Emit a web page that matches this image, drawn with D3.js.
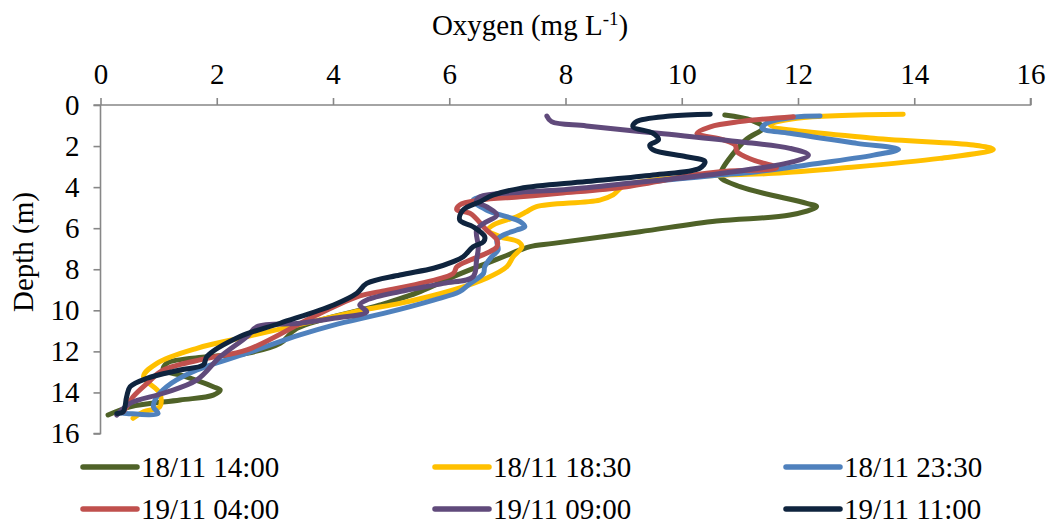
<!DOCTYPE html>
<html>
<head>
<meta charset="utf-8">
<script src="https://cdn.jsdelivr.net/npm/d3@7"></script>
<style>
  html, body { margin: 0; padding: 0; background: #fff; }
  svg { display: block; }
  text { font-family: "Liberation Serif", "Times New Roman", serif; fill: #000; }
</style>
</head>
<body>
<svg id="chart" width="1052" height="524"></svg>
<script>
// Dissolved oxygen profiles: oxygen (mg/L) against depth (m) for six casts.
const seriesNames = ["18/11 14:00", "18/11 18:30", "18/11 23:30", "19/11 04:00", "19/11 09:00", "19/11 11:00"];
const seriesColors = ["#4F6228", "#FFC000", "#4F81BD", "#C0504D", "#604A7B", "#0F243E"];

const xTicks = [0, 2, 4, 6, 8, 10, 12, 14, 16];
const yTicks = [0, 2, 4, 6, 8, 10, 12, 14, 16];

// 18/11 14:00
const oxy1   = [10.74, 11.2, 11.4, 11.1, 10.80, 10.69, 10.66, 11.0, 12.15, 12.32, 11.86, 10.6, 9.28, 7.79, 7.39, 7.22, 6.93, 6.64, 6.07, 5.50, 4.81, 3.38, 3.09, 2.52, 1.83, 1.14, 1.08, 1.37, 1.94, 2.06, 1.94, 1.37, 0.51, 0.13];
const depth1 = [0.49, 0.75, 1.1, 1.7, 2.68, 3.17, 3.49, 3.98, 4.79, 4.95, 5.36, 5.65, 6.17, 6.74, 6.90, 7.06, 7.39, 7.71, 8.36, 9.09, 9.74, 10.88, 11.61, 12.09, 12.26, 12.58, 12.91, 13.15, 13.72, 13.88, 14.13, 14.37, 14.70, 15.10];

// 18/11 18:30
const oxy2   = [13.81, 11.98, 11.52, 13.30, 15.02, 15.36, 14.44, 12.72, 11.58, 10.77, 9.9, 9.0, 8.82, 8.59, 7.50, 7.33, 7.16, 6.76, 6.67, 6.87, 7.19, 7.25, 7.10, 6.99, 6.64, 6.07, 5.15, 4.58, 4.01, 2.52, 1.66, 0.97, 0.74, 1.02, 1.02, 0.74, 0.56];
const depth2 = [0.45, 0.65, 0.97, 1.62, 1.95, 2.16, 2.60, 3.08, 3.33, 3.41, 3.55, 3.95, 4.38, 4.63, 4.95, 5.20, 5.44, 5.84, 6.09, 6.41, 6.66, 6.90, 7.39, 7.88, 8.44, 9.01, 9.66, 9.95, 10.31, 11.28, 11.85, 12.58, 13.23, 14.04, 14.70, 14.94, 15.26];

// 18/11 23:30
const oxy3   = [12.38, 11.92, 11.46, 11.38, 11.86, 13.01, 13.73, 13.30, 12.15, 11.29, 10.66, 9.51, 8.4, 7.2, 6.41, 6.64, 7.22, 7.30, 7.16, 6.93, 6.82, 6.84, 6.73, 6.61, 6.59, 6.36, 6.18, 5.73, 4.87, 4.01, 3.43, 2.52, 1.66, 1.31, 1.14, 0.97, 0.91, 0.99, 0.45, 0.34];
const depth3 = [0.54, 0.60, 0.89, 1.14, 1.38, 1.87, 2.16, 2.44, 2.92, 3.25, 3.41, 3.73, 4.1, 4.3, 4.63, 5.11, 5.68, 5.93, 6.09, 6.33, 6.58, 7.06, 7.39, 7.88, 8.20, 8.69, 9.09, 9.50, 10.15, 10.72, 11.20, 12.09, 12.91, 13.39, 13.72, 14.21, 14.70, 15.02, 15.02, 14.99];

// 19/11 04:00
const oxy4   = [11.92, 11.0, 10.49, 10.26, 10.72, 10.92, 10.95, 11.23, 11.63, 10.66, 10.20, 9.05, 7.90, 7.22, 6.53, 6.18, 6.13, 6.36, 6.64, 6.82, 6.82, 6.64, 6.36, 6.13, 6.07, 5.50, 4.81, 4.46, 3.66, 2.52, 1.83, 1.08, 0.80, 0.56, 0.45, 0.39];
const depth4 = [0.57, 0.81, 1.06, 1.38, 1.70, 1.95, 2.27, 2.68, 3.05, 3.25, 3.41, 3.98, 4.30, 4.47, 4.63, 4.87, 5.11, 5.28, 6.09, 6.58, 6.90, 7.22, 7.55, 7.88, 8.20, 8.69, 9.09, 9.30, 10.31, 11.93, 12.34, 12.91, 13.56, 14.21, 14.70, 14.94];

// 19/11 09:00
const oxy5   = [7.68, 7.76, 8.36, 9.60, 11.03, 11.86, 12.18, 11.92, 10.77, 9.05, 7.90, 7.22, 6.53, 6.47, 6.64, 6.82, 6.59, 6.47, 6.50, 6.47, 6.41, 5.90, 5.15, 4.58, 4.46, 4.58, 4.01, 3.43, 2.69, 2.52, 2.06, 1.66, 1.08, 0.51, 0.28];
const depth5 = [0.54, 0.81, 1.02, 1.38, 1.80, 2.11, 2.44, 2.76, 3.30, 3.82, 4.14, 4.25, 4.47, 4.71, 4.95, 5.36, 5.77, 6.09, 6.90, 7.55, 8.36, 8.69, 9.09, 9.50, 9.74, 10.07, 10.39, 10.63, 10.80, 11.28, 12.26, 13.39, 14.04, 14.53, 15.10];

// 19/11 11:00
const oxy6   = [10.49, 9.80, 9.22, 9.16, 9.51, 9.60, 9.45, 9.51, 10.08, 10.40, 10.31, 9.51, 8.36, 7.22, 6.76, 6.53, 6.24, 6.18, 6.41, 6.61, 6.59, 6.41, 6.24, 6.07, 5.73, 5.15, 4.58, 4.41, 4.01, 3.09, 2.40, 1.83, 1.77, 1.37, 0.80, 0.51, 0.45, 0.39, 0.28];
const depth6 = [0.45, 0.54, 0.81, 1.06, 1.38, 1.70, 1.95, 2.19, 2.52, 2.76, 3.08, 3.41, 3.73, 4.06, 4.38, 4.71, 5.11, 5.60, 5.93, 6.41, 6.66, 6.90, 7.39, 7.63, 7.95, 8.28, 8.69, 9.17, 9.74, 10.63, 11.28, 12.26, 12.66, 12.91, 13.31, 13.72, 14.21, 14.94, 15.02];

const oxygenSeries = [oxy1, oxy2, oxy3, oxy4, oxy5, oxy6];
const depthSeries  = [depth1, depth2, depth3, depth4, depth5, depth6];

const svg = d3.select("#chart");
const FONT = 29;

const x = d3.scaleLinear().domain([0, 16]).range([100.5, 1030.5]);
const y = d3.scaleLinear().domain([0, 16]).range([105, 433.5]);

// Top oxygen axis
const xAxis = d3.axisTop(x).tickValues(xTicks).tickSize(7).tickPadding(14).tickFormat(d3.format("d"));
const gx = svg.append("g").attr("transform", `translate(0,${y(0)})`).call(xAxis);
// Left depth axis
const yAxis = d3.axisLeft(y).tickValues(yTicks).tickSize(7).tickPadding(14).tickFormat(d3.format("d"));
const gy = svg.append("g").attr("transform", `translate(${x(0)},0)`).call(yAxis);

[gx, gy].forEach(g => {
  g.selectAll(".domain").attr("stroke", "#878787").attr("stroke-width", 1.6);
  g.selectAll(".tick line").attr("stroke", "#878787").attr("stroke-width", 1.6);
  g.selectAll(".tick text").style("font-size", FONT + "px").attr("fill", "#000")
    .style("font-family", '"Liberation Serif", "Times New Roman", serif');
});
gx.select(".domain").attr("d", `M${x(0) - 7},0H${x(16)}V-7`);
gy.select(".domain").attr("d", `M0,${y(0)}V${y(16)}H-7`);

// Axis titles
const title = svg.append("text")
  .attr("x", 530).attr("y", 35)
  .attr("text-anchor", "middle")
  .style("font-size", FONT + "px");
title.append("tspan").text("Oxygen (mg L");
title.append("tspan").text("-1").style("font-size", "19px").attr("dy", -10);
title.append("tspan").text(")").attr("dy", 10);

svg.append("text")
  .attr("transform", `translate(33,252) rotate(-90)`)
  .attr("text-anchor", "middle")
  .style("font-size", FONT + "px")
  .text("Depth (m)");

// Profile lines
const line = d3.line()
  .x(d => x(d[0]))
  .y(d => y(d[1]))
  .curve(d3.curveCatmullRom.alpha(0.5));

const plot = svg.append("g");
oxygenSeries.forEach((ox, i) => {
  const pts = ox.map((v, k) => [v, depthSeries[i][k]]);
  plot.append("path")
    .datum(pts)
    .attr("d", line)
    .attr("fill", "none")
    .attr("stroke", seriesColors[i])
    .attr("stroke-width", 5)
    .attr("stroke-linecap", "round")
    .attr("stroke-linejoin", "round");
});

// Legend: three columns, two rows
const legendCols = [83, 435, 786];
const legendRows = [467, 509];
seriesNames.forEach((name, i) => {
  const cx = legendCols[i % 3];
  const cy = legendRows[Math.floor(i / 3)];
  const g = svg.append("g").attr("transform", `translate(${cx},${cy})`);
  g.append("line")
    .attr("x1", 0).attr("x2", 54).attr("y1", 0).attr("y2", 0)
    .attr("stroke", seriesColors[i]).attr("stroke-width", 5.5)
    .attr("stroke-linecap", "round");
  g.append("text")
    .attr("x", 58).attr("y", 10)
    .style("font-size", FONT + "px")
    .text(name);
});
</script>
</body>
</html>
